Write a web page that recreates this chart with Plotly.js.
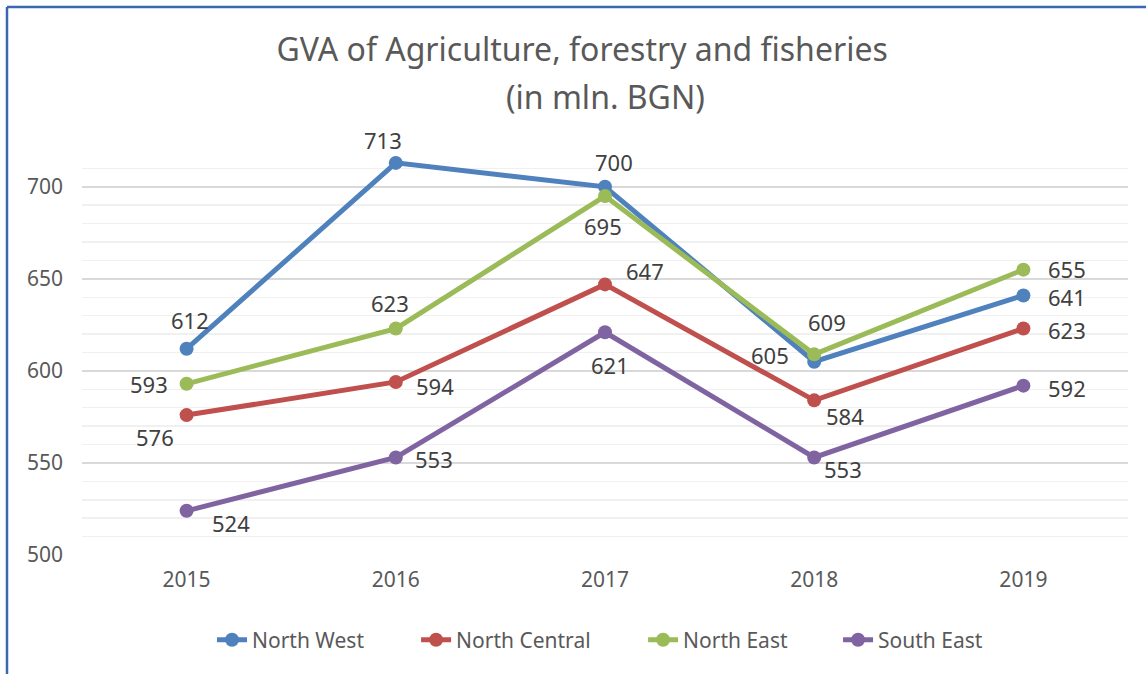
<!DOCTYPE html>
<html><head><meta charset="utf-8">
<script src="https://cdn.plot.ly/plotly-3.0.1.min.js"></script>
<style>html,body{margin:0;padding:0;background:#fff;}#chart{width:1146px;height:674px;}</style>
</head><body><div id="chart"></div>
<script>
const years = ['2015','2016','2017','2018','2019'];
const seriesNames = ['North West','North Central','North East','South East'];
const northWest = [612, 713, 700, 605, 641];
const northCentral = [576, 594, 647, 584, 623];
const northEast = [593, 623, 695, 609, 655];
const southEast = [524, 553, 621, 553, 592];
const colors = ['#4F81BD','#C0504D','#9BBB59','#8064A2'];

// label offsets in pixels (xshift, yshift) per series/point
const labelOffsets = [
  [[3,29],[-13,23],[9,25],[-44,7],[44,-2]],
  [[-32,-22],[39,-4],[40,13],[31,-16],[44,-1]],
  [[-38,0],[-6,26],[-2,-30],[13,32],[44,1]],
  [[44,-12],[38,-2],[5,-33],[29,-12],[44,-2]]
];
const legendNames = ['legend','legend2','legend3','legend4'];
const legendX = [0.1243, 0.3194, 0.5364, 0.7228];

const allSeries = [northWest, northCentral, northEast, southEast];
const traces = allSeries.map((vals,i)=>({
  type:'scatter', mode:'lines+markers', name:seriesNames[i],
  x:years, y:vals, legend:legendNames[i],
  line:{color:colors[i], width:5},
  marker:{color:colors[i], size:14},
  hoverinfo:'skip'
}));

const annotations = [];
allSeries.forEach((vals,i)=>{
  vals.forEach((v,j)=>{
    annotations.push({x:j, y:v, xref:'x', yref:'y', text:String(v), showarrow:false,
      xshift:labelOffsets[i][j][0], yshift:labelOffsets[i][j][1],
      font:{family:'Noto Sans', size:22, color:'#404040'}});
  });
});
annotations.push({xref:'paper', yref:'paper', x:0.5, y:1.131, xanchor:'center', yanchor:'middle',
  text:'(in mln. BGN)', showarrow:false, font:{family:'Noto Sans', size:32, color:'#595959'}});

const layout = {
  width:1146, height:674,
  margin:{l:82, r:18, t:150, b:119},
  paper_bgcolor:'#fff', plot_bgcolor:'#fff',
  title:{text:'GVA of Agriculture, forestry and fisheries', x:0.508, xanchor:'center', y:0.926, yanchor:'middle',
    font:{family:'Noto Sans', size:32, color:'#595959'}},
  xaxis:{type:'category', range:[-0.5,4.5], showgrid:false, zeroline:false, showline:false, ticks:'',
    tickfont:{family:'Noto Sans', size:21, color:'#595959'}, ticklabelstandoff:10},
  yaxis:{range:[500,720], dtick:50, tick0:500, showgrid:true, gridcolor:'#d9d9d9', gridwidth:1.5, zeroline:false,
    showline:false, ticks:'', tickfont:{family:'Noto Sans', size:21, color:'#595959'}, ticklabelstandoff:18,
    minor:{dtick:10, showgrid:true, gridcolor:'#f0f0f0', gridwidth:1.5}},
  annotations:annotations,
  shapes:[
    {type:'line', xref:'paper', yref:'paper', x0:-0.0717, x1:-0.0717, y0:1.353, y1:-0.3, line:{color:'#3A67AE', width:2.5}},
    {type:'line', xref:'paper', yref:'paper', x0:-0.0717, x1:1.03, y0:1.353, y1:1.353, line:{color:'#3A67AE', width:2.5}}
  ],
  showlegend:true
};
legendNames.forEach((ln,i)=>{
  layout[ln] = {orientation:'h', x:legendX[i], xanchor:'left', y:-0.21, yanchor:'middle',
    bgcolor:'rgba(0,0,0,0)', font:{family:'Noto Sans', size:21, color:'#595959'}, itemclick:false};
});
Plotly.newPlot('chart', traces, layout, {staticPlot:true});
</script></body></html>
